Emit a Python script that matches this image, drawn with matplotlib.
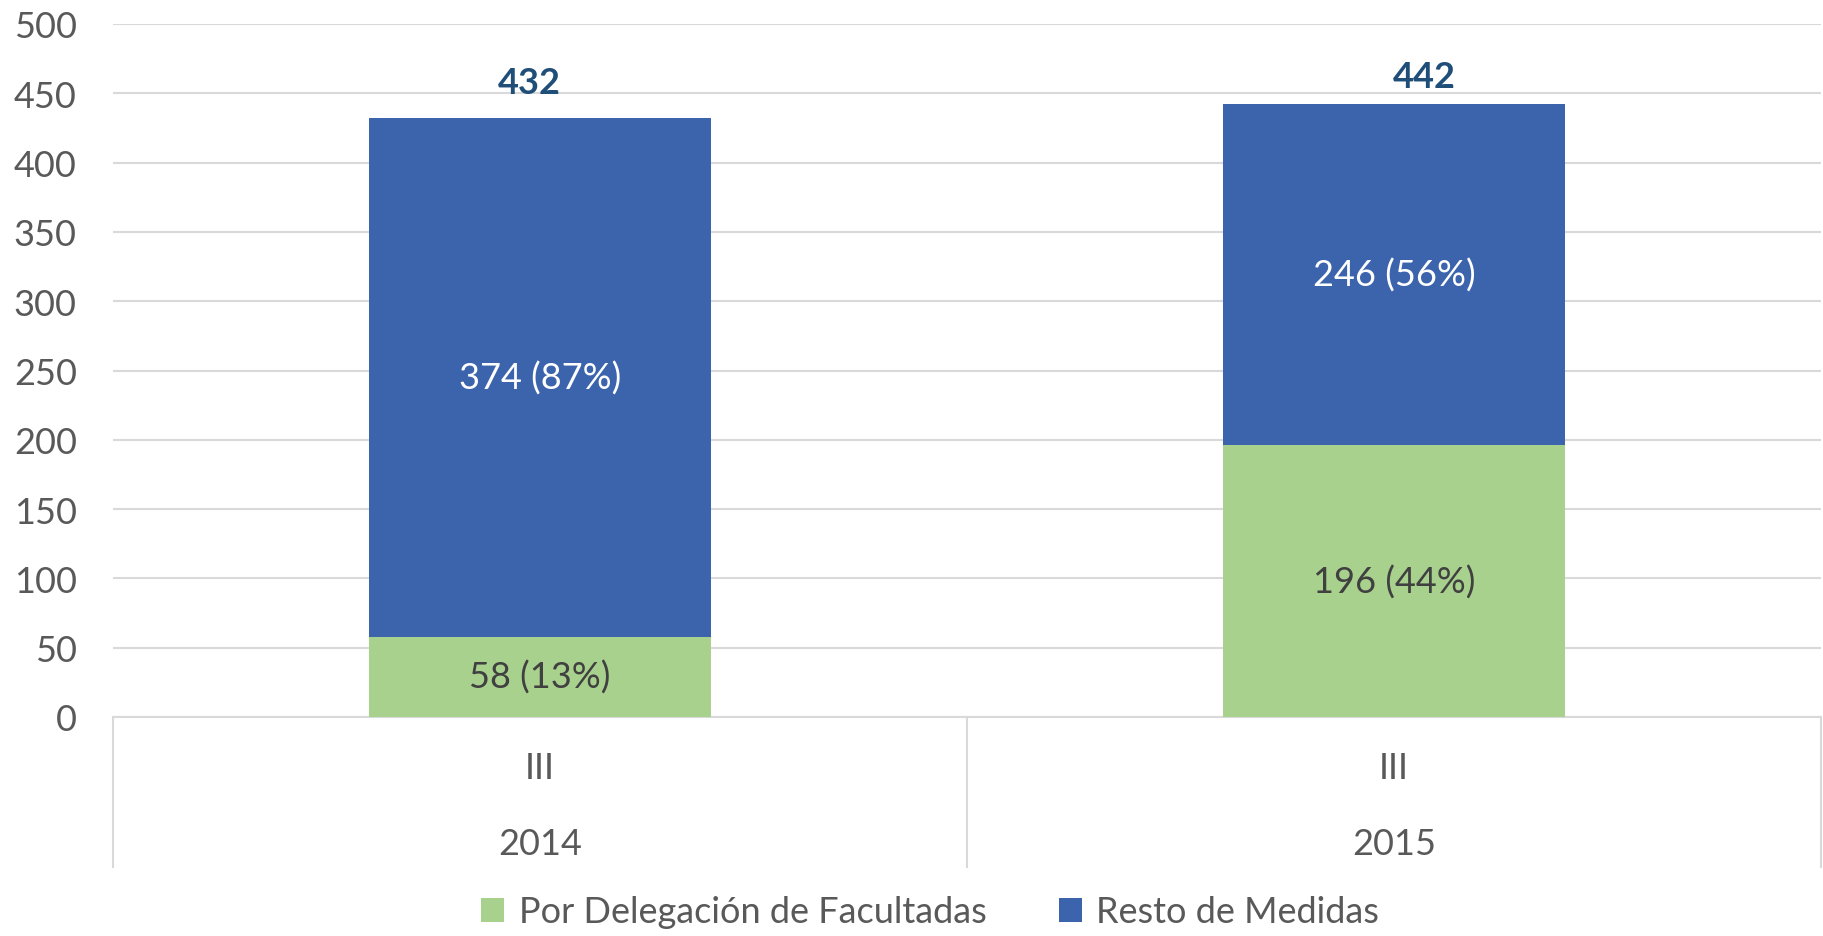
import matplotlib
matplotlib.use("Agg")
import matplotlib.pyplot as plt
import matplotlib.transforms as mtransforms
from matplotlib.patches import Patch
import numpy as np

plt.rcParams['font.family'] = ['Lato', 'DejaVu Sans']

years = ["2014", "2015"]
quarters = ["III", "III"]
delegacion = [58, 196]
resto = [374, 246]
totals = [432, 442]
pct_delegacion = [13, 44]
pct_resto = [87, 56]
series_names = ["Por Delegación de Facultadas", "Resto de Medidas"]

# manual nudges of the total labels (as placed in the original)
total_dx = [-0.013, 0.035]
total_dy = [14, 8]

green = "#A9D18E"
blue = "#3C64AD"
total_color = "#1F4E79"
text_gray = "#595959"
dark_text = "#404040"
grid_color = "#D9D9D9"
fs = 26

fig = plt.figure(figsize=(18.24, 9.37), dpi=100)
ax = fig.add_axes([113/1824, 1-718/937, (1821-113)/1824, (718-25)/937])

x = np.arange(len(years))
w = 0.4
ax.bar(x, delegacion, width=w, color=green, zorder=3)
ax.bar(x, resto, width=w, bottom=delegacion, color=blue, zorder=3)

ax.set_xlim(-0.5, len(years) - 0.5)
ax.set_ylim(0, 500)
ax.set_yticks(np.arange(0, 501, 50))
ax.tick_params(axis='y', length=0, pad=26, labelsize=fs, labelcolor=text_gray)
ax.set_xticks([])
ax.yaxis.grid(True, color=grid_color, linewidth=1.5, zorder=0)
for s in ['left', 'right', 'top']:
    ax.spines[s].set_visible(False)
ax.spines['bottom'].set_color(grid_color)
ax.spines['bottom'].set_linewidth(1.5)

for i in range(len(years)):
    ax.text(x[i], delegacion[i] / 2, f"{delegacion[i]} ({pct_delegacion[i]}%)",
            ha='center', va='center', fontsize=fs, color=dark_text, zorder=4)
    ax.text(x[i], delegacion[i] + resto[i] / 2, f"{resto[i]} ({pct_resto[i]}%)",
            ha='center', va='center', fontsize=fs, color='white', zorder=4)
    ax.text(x[i] + total_dx[i], totals[i] + total_dy[i], f"{totals[i]}", ha='center',
            va='bottom', fontsize=fs, fontweight='bold', color=total_color, zorder=4)

# category axis section
trans = mtransforms.blended_transform_factory(ax.transData, ax.transAxes)
ah = (718 - 25)
bottom_frac = -(868 - 718) / ah
for xb in [-0.5, 0.5, 1.5]:
    ax.plot([xb, xb], [0, bottom_frac], transform=trans, color=grid_color,
            linewidth=1.5, clip_on=False)
for i in range(len(years)):
    ax.text(x[i], -(769 - 718) / ah, quarters[i], transform=trans, ha='center',
            va='center', fontsize=fs, color=text_gray)
    ax.text(x[i], -(845 - 718) / ah, years[i], transform=trans, ha='center',
            va='center', fontsize=fs, color=text_gray)

handles = [Patch(facecolor=green, edgecolor='none'), Patch(facecolor=blue, edgecolor='none')]
fig.legend(handles, series_names, loc='center', bbox_to_anchor=(930/1824, 1-913/937),
           ncol=2, frameon=False, fontsize=fs, labelcolor=text_gray,
           handlelength=0.65, handleheight=0.65, handletextpad=0.4, columnspacing=2.0)

fig.savefig("out.png", dpi=100)
